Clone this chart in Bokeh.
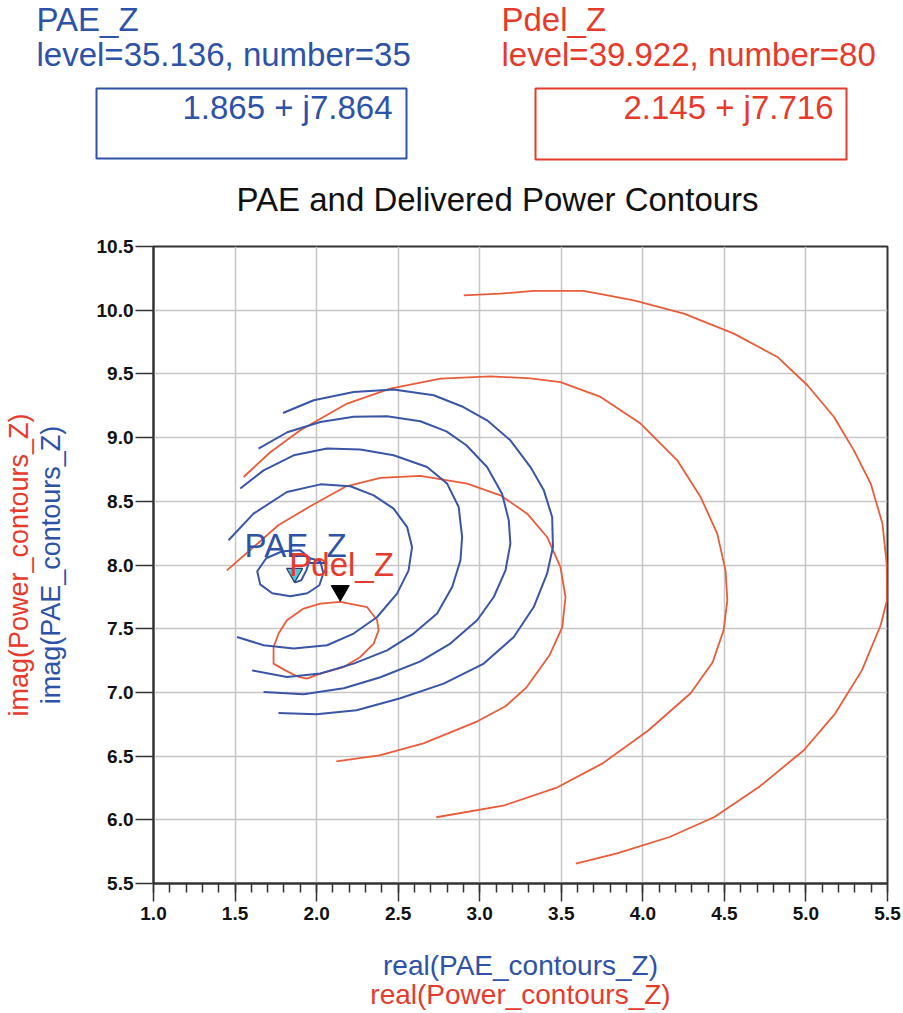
import numpy as np
from bokeh.plotting import figure
from bokeh.models import Range1d, FixedTicker, PrintfTickFormatter, Label, Title
from bokeh.embed import file_html
from bokeh.resources import INLINE
from bokeh.core.properties import value

# ---------------- data ----------------
pae_name = "PAE_Z"
pae_level = 35.136
pae_number = 35
pae_re, pae_im = 1.865, 7.864

pdel_name = "Pdel_Z"
pdel_level = 39.922
pdel_number = 80
pdel_re, pdel_im = 2.145, 7.716

# PAE contours (blue)
pae1_re = [1.833, 1.869, 1.906, 1.937, 1.961, 1.900, 1.790, 1.691, 1.636, 1.654, 1.728, 1.839, 1.943, 2.017, 2.041, 2.023, 1.961]
pae1_im = [7.974, 7.864, 7.880, 7.958, 8.053, 8.115, 8.108, 8.053, 7.951, 7.848, 7.778, 7.754, 7.778, 7.841, 7.935, 8.029, 8.053]

pae2_re = [1.460, 1.613, 1.818, 2.023, 2.207, 2.350, 2.472, 2.555, 2.585, 2.564, 2.493, 2.371, 2.227, 2.064, 1.859, 1.675, 1.512]
pae2_im = [8.194, 8.403, 8.573, 8.633, 8.618, 8.547, 8.443, 8.298, 8.141, 7.958, 7.775, 7.592, 7.462, 7.370, 7.344, 7.370, 7.435]

pae3_re = [1.532, 1.675, 1.859, 2.064, 2.268, 2.472, 2.677, 2.800, 2.871, 2.892, 2.882, 2.831, 2.739, 2.595, 2.432, 2.227, 2.023, 1.818, 1.604]
pae3_im = [8.600, 8.743, 8.861, 8.914, 8.906, 8.861, 8.769, 8.639, 8.455, 8.220, 8.037, 7.827, 7.619, 7.462, 7.330, 7.226, 7.148, 7.121, 7.173]

pae4_re = [1.644, 1.820, 2.023, 2.227, 2.432, 2.636, 2.796, 2.918, 3.045, 3.137, 3.178, 3.188, 3.158, 3.086, 2.984, 2.820, 2.636, 2.391, 2.166, 1.920, 1.675]
pae4_im = [8.914, 9.042, 9.122, 9.163, 9.167, 9.128, 9.049, 8.940, 8.769, 8.560, 8.351, 8.168, 7.958, 7.749, 7.566, 7.383, 7.244, 7.119, 7.032, 6.985, 7.003]

pae5_re = [1.794, 1.982, 2.227, 2.472, 2.718, 2.900, 3.045, 3.188, 3.311, 3.393, 3.444, 3.449, 3.413, 3.331, 3.209, 3.025, 2.779, 2.513, 2.245, 1.999, 1.766]
pae5_im = [9.193, 9.293, 9.358, 9.377, 9.332, 9.240, 9.136, 8.979, 8.769, 8.586, 8.377, 8.141, 7.932, 7.670, 7.435, 7.226, 7.069, 6.954, 6.860, 6.828, 6.838]

# Delivered power contours (red)
pow1_re = [2.145, 2.309, 2.371, 2.380, 2.350, 2.268, 2.166, 2.023, 1.941, 1.890, 1.808, 1.736, 1.736, 1.767, 1.818, 1.920, 2.023, 2.145]
pow1_im = [7.710, 7.670, 7.566, 7.487, 7.383, 7.278, 7.199, 7.148, 7.108, 7.121, 7.173, 7.226, 7.356, 7.462, 7.566, 7.658, 7.697, 7.710]

pow2_re = [1.450, 1.612, 1.765, 1.961, 2.182, 2.391, 2.636, 2.923, 3.127, 3.291, 3.413, 3.495, 3.526, 3.506, 3.428, 3.287, 3.158, 2.986, 2.655, 2.385, 2.121]
pow2_im = [7.958, 8.139, 8.312, 8.461, 8.618, 8.684, 8.700, 8.639, 8.547, 8.403, 8.220, 7.984, 7.749, 7.513, 7.291, 7.040, 6.891, 6.773, 6.600, 6.506, 6.459]

pow3_re = [1.552, 1.716, 1.900, 2.187, 2.452, 2.759, 3.066, 3.311, 3.495, 3.741, 3.986, 4.211, 4.354, 4.456, 4.507, 4.518, 4.495, 4.428, 4.293, 4.035, 3.753, 3.477, 3.152, 2.734]
pow3_im = [8.691, 8.885, 9.057, 9.267, 9.385, 9.463, 9.481, 9.465, 9.436, 9.319, 9.110, 8.822, 8.534, 8.246, 7.958, 7.723, 7.487, 7.236, 6.993, 6.703, 6.443, 6.255, 6.114, 6.020]

pow4_re = [2.902, 3.127, 3.331, 3.638, 3.945, 4.252, 4.558, 4.825, 5.009, 5.172, 5.294, 5.397, 5.469, 5.495, 5.497, 5.458, 5.343, 5.179, 4.987, 4.712, 4.439, 4.164, 3.836, 3.589]
pow4_im = [10.117, 10.130, 10.151, 10.151, 10.078, 9.973, 9.816, 9.633, 9.411, 9.162, 8.900, 8.639, 8.325, 8.011, 7.723, 7.527, 7.173, 6.834, 6.546, 6.257, 6.022, 5.865, 5.735, 5.656]

pae_contours = [(pae1_re, pae1_im), (pae2_re, pae2_im), (pae3_re, pae3_im), (pae4_re, pae4_im), (pae5_re, pae5_im)]
pow_contours = [(pow1_re, pow1_im), (pow2_re, pow2_im), (pow3_re, pow3_im), (pow4_re, pow4_im)]

x_ticks = [1.0, 1.5, 2.0, 2.5, 3.0, 3.5, 4.0, 4.5, 5.0, 5.5]
y_ticks = [5.5, 6.0, 6.5, 7.0, 7.5, 8.0, 8.5, 9.0, 9.5, 10.0, 10.5]

title_text = "PAE and Delivered Power Contours"
x_title_pae = "real(PAE_contours_Z)"
x_title_pow = "real(Power_contours_Z)"
y_title_pae = "imag(PAE_contours_Z)"
y_title_pow = "imag(Power_contours_Z)"

# ---------------- styles ----------------
BLUE_T = "#2d52a8"
RED_T = "#e63a2c"
BLUE_L = "#3b55a6"
RED_L = "#e85c3a"
FONT_NAME = "Liberation Sans"
FONT = value(FONT_NAME)
AXC = "#333333"

W = 903
HDR_H = 230
MAIN_H = 782

# ---------------- header figure (readouts + title) ----------------
hdr = figure(width=W, height=HDR_H, x_range=Range1d(0, W), y_range=Range1d(HDR_H, 0),
             x_axis_type=None, y_axis_type=None, output_backend="svg",
             toolbar_location=None, min_border=0)
hdr.grid.visible = False
hdr.outline_line_color = None

def htext(x, y, t, color, size, align="left"):
    hdr.text(x=[x], y=[y], text=[t], text_font=FONT, text_font_size=value(size),
             text_color=color, text_align=align, text_baseline="alphabetic")

HS = "33px"
# PAE readout
htext(36, 19, pae_name, BLUE_T, HS)
htext(36, 54, f"level={pae_level:.3f}, number={pae_number}", BLUE_T, HS)
hdr.quad(left=[96], right=[406], top=[88], bottom=[158], fill_color=None, line_color=BLUE_T, line_width=2)
htext(392, 107, f"{pae_re:.3f} + j{pae_im:.3f}", BLUE_T, HS, align="right")

# Pdel readout
htext(501, 19, pdel_name, RED_T, HS)
htext(501, 54, f"level={pdel_level:.3f}, number={pdel_number}", RED_T, HS)
hdr.quad(left=[535], right=[846], top=[88], bottom=[159], fill_color=None, line_color=RED_T, line_width=2)
htext(833, 107, f"{pdel_re:.3f} + j{pdel_im:.3f}", RED_T, HS, align="right")

# title
htext(497, 199, title_text, "#111111", "33px", align="center")

# ---------------- main plot ----------------
p = figure(width=W, height=MAIN_H, x_range=Range1d(1.0, 5.5), y_range=Range1d(5.5, 10.5),
           min_border_left=153, min_border_right=16, min_border_top=16, min_border_bottom=129,
           output_backend="svg", toolbar_location=None)
p.outline_line_color = AXC
p.outline_line_width = 2

x_minor = [round(v, 1) for v in np.arange(1.0, 5.5001, 0.1)]
p.xaxis.ticker = FixedTicker(ticks=x_ticks, minor_ticks=x_minor)
p.yaxis.ticker = FixedTicker(ticks=y_ticks)
p.xaxis.formatter = PrintfTickFormatter(format="%.1f")
p.yaxis.formatter = PrintfTickFormatter(format="%.1f")

for ax in (p.xaxis[0], p.yaxis[0]):
    ax.axis_line_color = AXC
    ax.axis_line_width = 2
    ax.major_tick_line_color = AXC
    ax.major_tick_line_width = 1.5
    ax.minor_tick_line_color = AXC
    ax.minor_tick_line_width = 1.5
    ax.major_tick_in = 0
    ax.major_tick_out = 18
    ax.minor_tick_in = 0
    ax.major_label_text_font = FONT_NAME
    ax.major_label_text_font_size = "19px"
    ax.major_label_text_font_style = "bold"
    ax.major_label_text_color = "#111111"
p.xaxis.minor_tick_out = 9
p.xaxis.major_label_standoff = 5
p.yaxis.minor_tick_out = 0
p.yaxis.major_label_standoff = 2

# first (blue) x title as the axis label, second (red) as a title below it
p.xaxis.axis_label = x_title_pae
p.xaxis.axis_label_text_color = BLUE_T
p.xaxis.axis_label_text_font = FONT_NAME
p.xaxis.axis_label_text_font_size = "28px"
p.xaxis.axis_label_text_font_style = "normal"
p.xaxis.axis_label_standoff = 27

p.grid.grid_line_color = "#c6c6c6"
p.grid.grid_line_width = 1.5

for re_, im_ in pow_contours:
    p.line(re_, im_, line_color=RED_L, line_width=1.8)
for re_, im_ in pae_contours:
    p.line(re_, im_, line_color=BLUE_L, line_width=2)

# markers: inverted triangles with their tip on the point
FH = 637
def tip_shift(size):
    r = size / 2.0
    tip_px = 2.0 * r * np.sqrt(3) / 3.0
    return tip_px * (10.5 - 5.5) / FH

s_pae, s_pdel = 16, 18
p.scatter([pae_re], [pae_im + tip_shift(s_pae)], marker="inverted_triangle", size=s_pae,
          fill_color="#55c4d6", line_color="#2a3a70", line_width=1.2)
p.scatter([pdel_re], [pdel_im + tip_shift(s_pdel)], marker="inverted_triangle", size=s_pdel,
          fill_color="black", line_color="black")

p.add_layout(Label(x=pae_re, y=pae_im, x_offset=-50, y_offset=37, text=pae_name,
                   text_font=FONT_NAME, text_font_size="33px", text_color=BLUE_T,
                   text_baseline="alphabetic"))
p.add_layout(Label(x=pdel_re, y=pdel_im, x_offset=-51, y_offset=37, text=pdel_name,
                   text_font=FONT_NAME, text_font_size="33px", text_color=RED_T,
                   text_baseline="alphabetic"))

# axis titles (two coloured lines each) as side titles
def side_title(text, color, standoff, size):
    return Title(text=text, align="center", text_color=color, text_font=FONT_NAME,
                 text_font_size=size, text_font_style="normal", standoff=standoff)

p.add_layout(side_title(x_title_pow, RED_T, -13, "28px"), "below")
p.add_layout(side_title(y_title_pae, BLUE_T, 56, "27px"), "left")
p.add_layout(side_title(y_title_pow, RED_T, -56, "27px"), "left")

open("out.html", "w").write(file_html([hdr, p], INLINE))
